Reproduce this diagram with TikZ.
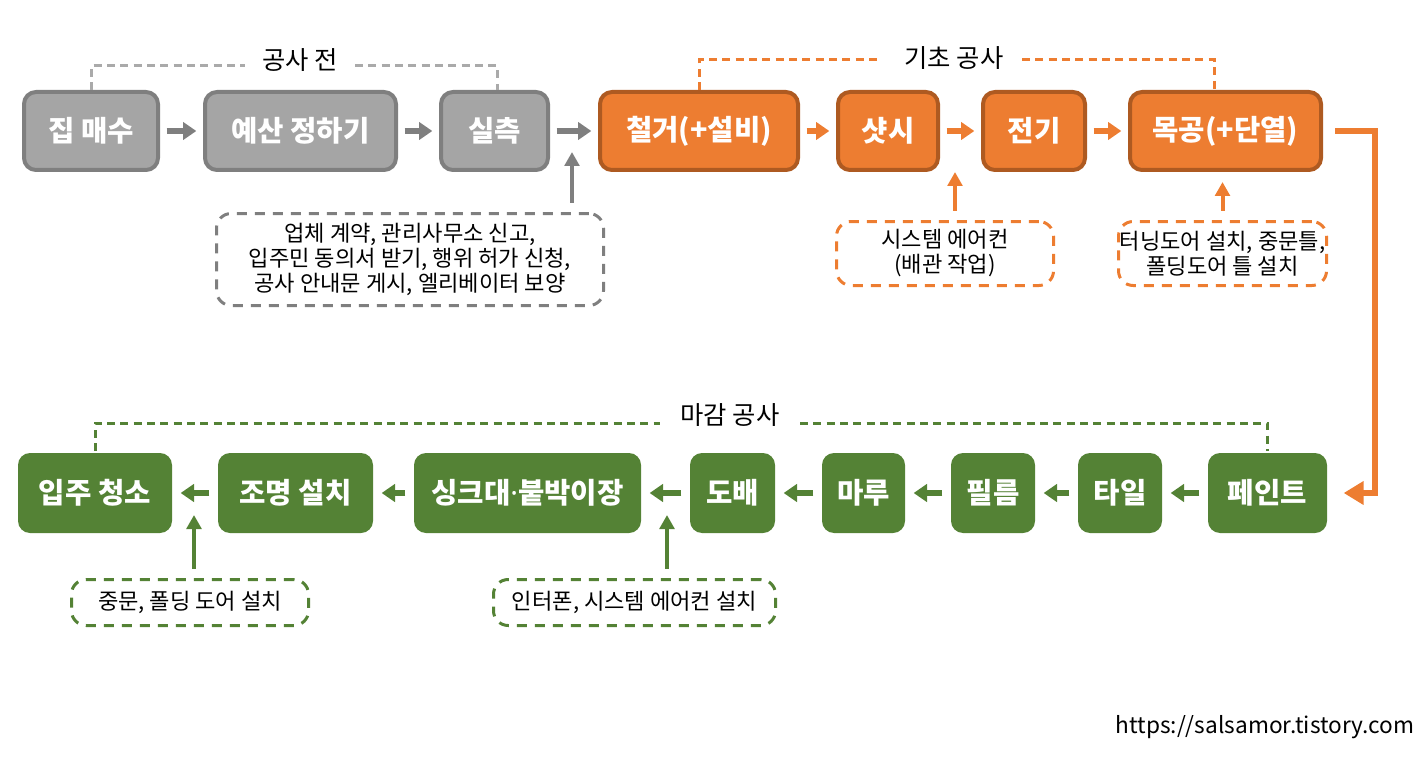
\documentclass[tikz,border=0pt]{standalone}
\usepackage{fontspec}
\setmainfont{Noto Sans CJK KR}
\newfontfamily\latinfont{Noto Sans}
\usetikzlibrary{arrows.meta}
\definecolor{grayfill}{HTML}{A5A5A5}
\definecolor{grayedge}{HTML}{7F7F7F}
\definecolor{graydash}{HTML}{AAAAAA}
\definecolor{orangefill}{HTML}{ED7D31}
\definecolor{orangeedge}{HTML}{AE5A21}
\definecolor{greenfill}{HTML}{548235}
\tikzset{
  box/.style={rounded corners=9pt, line width=3pt, inner sep=0pt, minimum height=58.5pt,
    text=white, font=\fontsize{21.5}{25}\selectfont\bfseries},
  graybox/.style={box, draw=grayedge, fill=grayfill},
  orangebox/.style={box, draw=orangeedge, fill=orangefill},
  greenbox/.style={box, fill=greenfill, minimum height=60pt},
  note/.style={rounded corners=11pt, line width=2.25pt, dash pattern=on 7.5pt off 6pt,
    inner sep=0pt, align=center, font=\fontsize{16.6}{18.75}\selectfont},
  phase/.style={font=\fontsize{19}{22}\selectfont},
  flow/.style={line width=4.5pt, shorten <=5pt, shorten >=5pt, -{Triangle[length=10pt,width=13pt]}},
  upflow/.style={line width=3pt, shorten <=7pt, -{Triangle[length=10.5pt,width=11pt]}},
  bracket/.style={line width=2.25pt, dash pattern=on 6pt off 4pt}
}
\begin{document}
\begin{tikzpicture}[x=0.75pt,y=-0.75pt]
    \useasboundingbox (0,0) rectangle (1424,763);

    \node[graybox, minimum width=100.5pt] (house) at (91,131) {집 매수};
    \node[graybox, minimum width=143.25pt] (budget) at (300.5,131) {예산 정하기};
    \node[graybox, minimum width=80.25pt] (measure) at (494.5,131) {실측};
    \node[orangebox, minimum width=148.5pt] (demo) at (699,131) {철거(+설비)};
    \node[orangebox, minimum width=75pt] (sash) at (888,131) {샷시};
    \node[orangebox, minimum width=76.5pt] (elec) at (1034,131) {전기};
    \node[orangebox, minimum width=143.25pt] (wood) at (1225.5,131) {목공(+단열)};

    \node[greenbox, minimum width=115.5pt] (clean) at (95,493) {입주 청소};
    \node[greenbox, minimum width=116.25pt] (light) at (295.5,493) {조명 설치};
    \node[greenbox, minimum width=170.25pt] (sink) at (527.5,493) {싱크대{\latinfont\bfseries ·}붙박이장};
    \node[greenbox, minimum width=63.75pt] (wall) at (732.5,493) {도배};
    \node[greenbox, minimum width=62.25pt] (floor) at (863.5,493) {마루};
    \node[greenbox, minimum width=63pt] (film) at (993,493) {필름};
    \node[greenbox, minimum width=63pt] (tile) at (1120,493) {타일};
    \node[greenbox, minimum width=89.25pt] (paint) at (1267.5,493) {페인트};

    \node[note, draw=grayedge, minimum width=290.25pt, minimum height=69pt] (permit) at (410,259.5)
        {업체 계약, 관리사무소 신고,\\입주민 동의서 받기, 행위 허가 신청,\\공사 안내문 게시, 엘리베이터 보양};
    \node[note, draw=orangefill, minimum width=162.75pt, minimum height=48pt] (aircon) at (945,253.5)
        {시스템 에어컨\\(배관 작업)};
    \node[note, draw=orangefill, minimum width=156pt, minimum height=48pt] (frame) at (1222.5,253.5)
        {터닝도어 설치, 중문틀,\\폴딩도어 틀 설치};
    \node[note, draw=greenfill, minimum width=177.75pt, minimum height=34.5pt] (door) at (190,602.5)
        {중문, 폴딩 도어 설치};
    \node[note, draw=greenfill, minimum width=211.5pt, minimum height=34.5pt] (phone) at (634.5,602.5)
        {인터폰, 시스템 에어컨 설치};

    \node[phase] (pre) at (300,60) {공사 전};
    \node[phase] (base) at (954,58) {기초 공사};
    \node[phase] (finish) at (730,415) {마감 공사};

    \coordinate (preL) at (245,66);
    \coordinate (preR) at (355,66);
    \coordinate (baseL) at (880,60);
    \coordinate (baseR) at (1022,60);
    \coordinate (finL) at (660,423);
    \coordinate (finR) at (800,423);
    \draw[bracket, graydash] (house.north) |- (preL);
    \draw[bracket, graydash] (preR) -| ([xshift=2pt]measure.north);
    \draw[bracket, orangefill] (demo.north) |- (baseL);
    \draw[bracket, orangefill] (baseR) -| ([xshift=-8.25pt]wood.north);
    \draw[bracket, greenfill] (clean.north) |- (finL);
    \draw[bracket, greenfill] (finR) -| (paint.north);

    \draw[flow, grayedge] (house) -- (budget);
    \draw[flow, grayedge] (budget) -- (measure);
    \draw[flow, grayedge] (measure) -- (demo);
    \draw[flow, orangefill] (demo) -- (sash);
    \draw[flow, orangefill] (sash) -- (elec);
    \draw[flow, orangefill] (elec) -- (wood);

    \draw[flow, greenfill] (paint) -- (tile);
    \draw[flow, greenfill] (tile) -- (film);
    \draw[flow, greenfill] (film) -- (floor);
    \draw[flow, greenfill] (floor) -- (wall);
    \draw[flow, greenfill] (wall) -- (sink);
    \draw[flow, greenfill] (sink) -- (light);
    \draw[flow, greenfill] (light) -- (clean);

    \coordinate (turn) at (1375,131);
    \draw[orangefill, line width=4.5pt, shorten <=9pt, shorten >=11pt, -{Triangle[length=15pt,width=17pt]}]
        (wood.east) -- (turn) |- (paint.east);

    \coordinate (permittip) at (572,152);
    \coordinate (aircontip) at (955,172);
    \coordinate (doortip) at (194,515);
    \coordinate (phonetip) at (667,515);
    \draw[upflow, grayedge] (permit.north -| permittip) -- (permittip);
    \draw[upflow, orangefill] (aircon.north -| aircontip) -- (aircontip);
    \draw[upflow, orangefill, shorten >=7.5pt] (frame.north) -- (frame.north |- wood.south);
    \draw[upflow, greenfill] (door.north -| doortip) -- (doortip);
    \draw[upflow, greenfill] (phone.north -| phonetip) -- (phonetip);

    \node[font=\fontsize{17}{20}\selectfont] (url) at (1265,727) {https://salsamor.tistory.com};
\end{tikzpicture}
\end{document}
